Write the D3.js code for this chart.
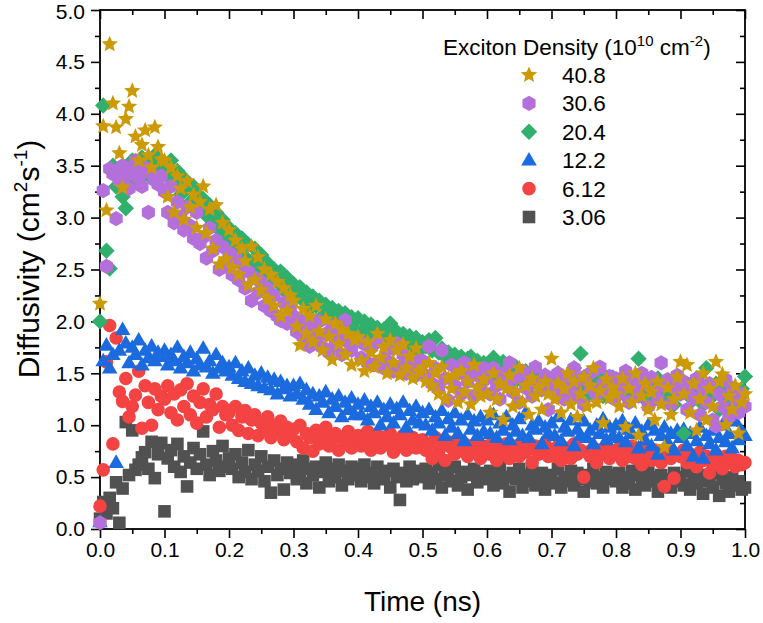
<!DOCTYPE html>
<html>
<head>
<meta charset="utf-8">
<script src="https://cdn.jsdelivr.net/npm/d3@7"></script>
<style>
  body { margin: 0; background: #fff; }
  svg { display: block; font-family: "Liberation Sans", Arial, sans-serif; }
</style>
</head>
<body>
<div id="chart"><svg width="763" height="623"></svg></div>
<script>
// sampling step of the time axis (ns)
const dt = 0.005;

// diffusivity values (cm^2 s^-1), one per time step
const d408 = [
  2.17, 3.88, 3.07, 4.67, 4.10, 3.87, 3.62, 3.29, 3.95, 4.07, 4.22, 3.78, 3.55, 3.70, 3.84, 3.60, 3.48, 3.87, 3.68, 3.56,
  3.55, 3.20, 3.48, 3.05, 3.40, 3.28, 2.98, 3.35, 3.10, 3.22, 2.90, 3.15, 3.30, 2.85, 3.08, 2.70, 3.12, 2.55, 2.95, 2.60,
  2.88, 2.52, 2.78, 2.45, 2.70, 2.58, 2.35, 2.72, 2.40, 2.62, 2.30, 2.50, 2.22, 2.45, 2.15, 2.38, 2.05, 2.32, 2.10, 2.25,
  2.20, 1.95, 1.77, 2.12, 1.88, 2.05, 1.80, 2.15, 1.90, 1.72, 2.02, 1.85, 1.63, 1.98, 1.78, 1.92, 1.68, 1.88, 1.58, 1.82,
  1.85, 1.62, 1.52, 1.80, 1.70, 1.56, 1.88, 1.65, 1.75, 1.50, 1.82, 1.60, 1.72, 1.48, 1.78, 1.55, 1.66, 1.45, 1.74, 1.52,
  1.55, 1.42, 1.60, 1.38, 1.50, 1.30, 1.56, 1.25, 1.45, 1.35, 1.48, 1.22, 1.52, 1.32, 1.42, 1.20, 1.58, 1.36, 1.28, 1.44,
  1.30, 1.12, 1.50, 1.25, 1.40, 1.05, 1.35, 1.48, 1.18, 1.32, 1.55, 1.22, 1.38, 1.10, 1.45, 1.28, 1.36, 1.15, 1.42, 1.30,
  1.64, 1.25, 1.40, 1.12, 1.35, 1.50, 1.20, 1.42, 1.08, 1.30, 1.46, 1.18, 1.38, 1.55, 1.22, 1.33, 1.02, 1.44, 1.26, 1.36,
  1.30, 1.18, 1.45, 0.98, 1.35, 1.22, 1.50, 0.90, 1.28, 1.40, 1.15, 1.32, 1.05, 1.42, 1.20, 0.79, 1.36, 1.10, 1.25, 1.46,
  1.61, 1.30, 1.58, 1.12, 1.40, 0.95, 1.25, 1.50, 1.05, 1.35, 1.18, 1.61, 1.42, 1.49, 1.00, 1.28, 1.15, 1.38, 0.92, 1.22,
  1.30
];
const d306 = [
  0.06, 3.26, 2.53, 3.47, 3.42, 2.99, 3.35, 3.50, 3.40, 3.28, 3.45, 3.55, 3.38, 3.30, 3.48, 3.05, 3.42, 3.36, 3.32, 3.40,
  3.25, 3.05, 3.30, 2.95, 3.15, 3.00, 2.88, 3.10, 2.92, 2.80, 3.05, 2.75, 2.81, 2.61, 2.90, 2.68, 2.78, 2.50, 2.72, 2.55,
  2.66, 2.45, 2.62, 2.40, 2.55, 2.32, 2.48, 2.20, 2.42, 2.28, 2.38, 2.15, 2.32, 2.10, 2.25, 2.05, 2.01, 2.18, 1.98, 2.12,
  2.05, 1.90, 2.02, 1.85, 1.98, 1.76, 1.92, 1.82, 2.00, 1.75, 1.88, 1.70, 1.95, 1.78, 1.85, 1.68, 2.01, 1.80, 1.72, 1.84,
  1.82, 1.65, 1.78, 1.60, 1.75, 1.58, 1.80, 1.62, 1.55, 1.72, 1.60, 1.52, 1.79, 1.56, 1.68, 1.50, 1.64, 1.54, 1.48, 1.62,
  1.62, 1.48, 1.76, 1.40, 1.55, 1.35, 1.72, 1.45, 1.24, 1.58, 1.38, 1.50, 1.30, 1.60, 1.42, 1.52, 1.28, 1.48, 1.36, 1.55,
  1.45, 1.30, 1.55, 1.38, 1.25, 1.50, 1.40, 1.60, 1.32, 1.46, 1.22, 1.52, 1.36, 1.44, 1.28, 1.56, 1.40, 1.34, 1.48, 1.15,
  1.42, 1.30, 1.50, 1.38, 1.25, 1.46, 1.35, 1.55, 1.28, 1.44, 1.20, 1.48, 1.36, 1.52, 1.30, 1.56, 1.40, 1.33, 1.47, 1.26,
  1.45, 1.30, 1.38, 1.52, 1.22, 1.42, 1.35, 1.28, 1.50, 1.40, 1.18, 1.46, 1.32, 1.25, 1.60, 1.38, 1.44, 1.20, 1.36, 1.48,
  1.30, 1.42, 1.15, 1.38, 1.26, 1.45, 1.10, 1.35, 1.22, 1.40, 1.05, 0.99, 1.30, 1.18, 1.44, 1.08, 1.36, 1.25, 1.12, 1.30,
  1.18
];
const d204 = [
  2.00, 4.08, 2.68, 2.51, 3.50, 3.30, 3.45, 3.20, 3.09, 3.40, 3.55, 3.35, 3.48, 3.58, 3.42, 3.52, 3.38, 3.60, 3.46, 3.55,
  3.50, 3.40, 3.55, 3.32, 3.45, 3.22, 3.38, 3.28, 3.15, 3.30, 3.23, 3.10, 3.18, 3.02, 3.12, 2.95, 3.05, 2.88, 2.98, 2.82,
  2.90, 2.78, 2.85, 2.70, 2.80, 2.62, 2.74, 2.58, 2.70, 2.52, 2.64, 2.48, 2.56, 2.42, 2.50, 2.38, 2.48, 2.30, 2.42, 2.28,
  2.36, 2.25, 2.33, 2.20, 2.28, 2.12, 2.24, 2.15, 2.20, 2.05, 2.16, 2.08, 2.13, 2.00, 2.10, 1.96, 2.08, 1.94, 2.04, 1.92,
  2.03, 1.90, 2.00, 1.88, 1.97, 1.85, 1.94, 1.82, 1.92, 1.86, 1.98, 1.80, 1.90, 1.78, 1.88, 1.76, 1.86, 1.74, 1.84, 1.72,
  1.80, 1.76, 1.82, 1.72, 1.84, 1.70, 1.74, 1.66, 1.70, 1.62, 1.68, 1.60, 1.66, 1.58, 1.64, 1.66, 1.56, 1.62, 1.54, 1.60,
  1.58, 1.52, 1.65, 1.48, 1.55, 1.61, 1.45, 1.52, 1.40, 1.56, 1.48, 1.44, 1.52, 1.38, 1.50, 1.42, 1.46, 1.36, 1.48, 1.40,
  1.44, 1.36, 1.50, 1.40, 1.32, 1.46, 1.38, 1.55, 1.42, 1.69, 1.35, 1.48, 1.30, 1.44, 1.38, 1.52, 1.28, 1.40, 1.34, 1.46,
  1.38, 1.30, 1.45, 1.35, 1.25, 1.42, 1.33, 1.64, 1.28, 1.40, 1.32, 1.22, 1.38, 1.45, 1.30, 1.26, 1.40, 1.35, 1.20, 1.32,
  1.42, 0.92, 1.30, 1.38, 1.25, 1.45, 1.32, 1.20, 1.55, 1.36, 1.28, 1.40, 1.15, 1.34, 1.26, 1.38, 1.22, 1.30, 1.18, 1.35,
  1.47
];
const d122 = [
  0.07, 1.62, 1.77, 1.55, 1.68, 0.64, 1.72, 1.92, 1.79, 1.60, 1.75, 1.68, 1.82, 1.58, 1.72, 1.65, 1.76, 1.62, 1.70, 1.66,
  1.72, 1.58, 1.68, 1.62, 1.75, 1.55, 1.66, 1.60, 1.70, 1.52, 1.64, 1.58, 1.74, 1.56, 1.62, 1.50, 1.68, 1.55, 1.60, 1.52,
  1.56, 1.48, 1.60, 1.45, 1.52, 1.42, 1.55, 1.40, 1.48, 1.38, 1.50, 1.36, 1.46, 1.34, 1.44, 1.30, 1.42, 1.35, 1.38, 1.28,
  1.38, 1.30, 1.40, 1.25, 1.34, 1.20, 1.30, 1.15, 1.28, 1.22, 1.32, 1.12, 1.25, 1.18, 1.28, 1.08, 1.22, 1.15, 1.26, 1.10,
  1.20, 1.10, 1.24, 1.05, 1.18, 1.12, 1.22, 1.00, 1.15, 1.08, 1.20, 1.02, 1.16, 1.10, 1.22, 0.98, 1.14, 1.05, 1.18, 1.02,
  1.12, 1.00, 1.15, 0.95, 1.08, 1.02, 1.14, 0.90, 1.06, 0.98, 1.12, 0.92, 1.05, 0.85, 1.10, 0.96, 1.04, 0.90, 1.08, 0.94,
  1.05, 0.92, 1.10, 0.88, 1.02, 0.95, 1.08, 0.86, 1.00, 0.94, 1.06, 0.90, 1.12, 0.88, 1.00, 0.96, 1.04, 0.82, 0.98, 0.92,
  1.02, 0.90, 1.08, 0.85, 0.98, 0.94, 1.05, 0.80, 0.96, 0.90, 1.04, 0.88, 0.95, 0.82, 1.00, 0.92, 1.06, 0.86, 0.98, 0.90,
  1.00, 0.88, 1.04, 0.84, 0.96, 0.92, 1.02, 0.78, 0.94, 0.86, 1.00, 0.80, 0.95, 0.72, 0.90, 0.98, 0.84, 0.92, 0.76, 0.95,
  0.88, 0.96, 0.80, 0.92, 0.70, 0.85, 0.98, 0.68, 0.90, 0.82, 0.95, 0.76, 0.88, 1.00, 0.84, 0.92, 0.78, 1.04, 0.86, 0.94,
  0.90
];
const d612 = [
  0.22, 0.57, 1.61, 1.96, 0.82, 1.84, 1.32, 1.23, 1.45, 1.08, 1.18, 1.29, 1.52, 0.97, 1.38, 1.22, 1.00, 1.35, 1.15, 1.28,
  1.25, 1.38, 1.12, 1.30, 1.05, 1.34, 1.18, 1.40, 1.10, 1.28, 1.02, 1.22, 1.35, 1.08, 1.20, 1.15, 1.30, 0.98, 1.18, 1.10,
  1.12, 1.00, 1.18, 0.95, 1.08, 1.14, 0.92, 1.05, 1.10, 0.90, 1.02, 0.96, 1.08, 0.88, 1.00, 0.94, 1.04, 0.86, 0.98, 0.92,
  0.96, 0.84, 1.00, 0.78, 0.92, 0.88, 0.75, 0.95, 0.82, 0.90, 0.98, 0.80, 0.86, 0.92, 0.76, 0.88, 0.84, 0.94, 0.78, 0.86,
  0.90, 0.80, 0.86, 0.94, 0.76, 0.84, 0.90, 0.78, 0.88, 0.82, 0.92, 0.74, 0.86, 0.80, 0.90, 0.76, 0.84, 0.88, 0.78, 0.82,
  0.86, 0.76, 0.82, 0.68, 0.88, 0.74, 0.80, 0.66, 0.84, 0.78, 0.72, 0.86, 0.76, 0.82, 0.70, 0.80, 0.74, 0.84, 0.68, 0.78,
  0.80, 0.72, 0.84, 0.66, 0.78, 0.74, 0.82, 0.68, 0.76, 0.80, 0.70, 0.84, 0.74, 0.78, 0.64, 0.80, 0.72, 0.76, 0.82, 0.70,
  0.76, 0.70, 0.80, 0.66, 0.74, 0.78, 0.68, 0.82, 0.72, 0.76, 0.50, 0.74, 0.70, 0.78, 0.64, 0.76, 0.72, 0.80, 0.68, 0.74,
  0.72, 0.78, 0.66, 0.76, 0.70, 0.80, 0.68, 0.74, 0.62, 0.78, 0.72, 0.66, 0.76, 0.70, 0.64, 0.41, 0.74, 0.68, 0.49, 0.72,
  0.70, 0.76, 0.64, 0.72, 0.68, 0.60, 0.74, 0.66, 0.70, 0.54, 0.62, 0.72, 0.66, 0.58, 0.70, 0.64, 0.68, 0.60, 0.66, 0.62,
  0.64
];
const d306b = [
  0.10, 0.26, 0.15, 0.30, 0.20, 0.45, 0.06, 0.39, 1.03, 0.52, 0.95, 0.57, 0.62, 0.69, 0.74, 0.58, 0.84, 0.49, 0.72, 0.83,
  0.17, 0.68, 0.76, 0.60, 0.82, 0.55, 0.70, 0.41, 0.64, 0.78, 0.58, 0.72, 0.94, 0.62, 0.52, 0.75, 0.66, 0.56, 0.80, 0.60,
  0.68, 0.58, 0.72, 0.50, 0.64, 0.55, 0.76, 0.48, 0.62, 0.56, 0.70, 0.46, 0.60, 0.35, 0.66, 0.52, 0.58, 0.38, 0.64, 0.54,
  0.62, 0.48, 0.56, 0.66, 0.44, 0.58, 0.52, 0.60, 0.40, 0.55, 0.64, 0.46, 0.58, 0.50, 0.62, 0.42, 0.56, 0.48, 0.60, 0.52,
  0.58, 0.46, 0.62, 0.50, 0.54, 0.44, 0.60, 0.52, 0.48, 0.56, 0.40, 0.58, 0.50, 0.28, 0.54, 0.46, 0.60, 0.48, 0.52, 0.56,
  0.50, 0.58, 0.44, 0.54, 0.48, 0.62, 0.40, 0.52, 0.56, 0.46, 0.60, 0.42, 0.50, 0.55, 0.38, 0.52, 0.58, 0.45, 0.50, 0.54,
  0.48, 0.56, 0.42, 0.52, 0.60, 0.44, 0.50, 0.36, 0.54, 0.48, 0.58, 0.40, 0.52, 0.46, 0.56, 0.42, 0.50, 0.54, 0.38, 0.48,
  0.52, 0.44, 0.58, 0.40, 0.50, 0.46, 0.56, 0.42, 0.54, 0.48, 0.36, 0.52, 0.46, 0.58, 0.44, 0.50, 0.40, 0.55, 0.48, 0.52,
  0.46, 0.54, 0.40, 0.50, 0.44, 0.56, 0.38, 0.52, 0.48, 0.42, 0.55, 0.46, 0.50, 0.36, 0.52, 0.44, 0.48, 0.40, 0.54, 0.46,
  0.50, 0.42, 0.56, 0.38, 0.48, 0.44, 0.52, 0.34, 0.46, 0.50, 0.40, 0.54, 0.32, 0.48, 0.44, 0.36, 0.50, 0.42, 0.46, 0.38,
  0.40
];

// series in legend order (top to bottom)
const labels  = ["40.8", "30.6", "20.4", "12.2", "6.12", "3.06"];
const colors  = ["#CC9A06", "#B46FDB", "#31AF6C", "#1B6BDF", "#F44343", "#515151"];
const shapes  = ["star", "hexagon", "diamond", "triangle", "circle", "square"];
const values  = [d408, d306, d204, d122, d612, d306b];

const xTicks = [0, 0.1, 0.2, 0.3, 0.4, 0.5, 0.6, 0.7, 0.8, 0.9, 1.0];
const yTicks = [0, 0.5, 1, 1.5, 2, 2.5, 3, 3.5, 4, 4.5, 5];

// ---- layout
const svg = d3.select("#chart").select("svg");
const margin = {top: 10, right: 18, bottom: 94, left: 100};
const W = 763, H = 623;
const plotW = W - margin.left - margin.right;
const plotH = H - margin.top - margin.bottom;

const x = d3.scaleLinear().domain([0, 1]).range([margin.left, margin.left + plotW]);
const y = d3.scaleLinear().domain([0, 5]).range([margin.top + plotH, margin.top]);

// ---- marker shapes (Origin style)
function shapePath(kind) {
  const p = d3.path();
  if (kind === "square") {
    const s = 6.3; p.rect(-s, -s, 2 * s, 2 * s);
  } else if (kind === "circle") {
    p.arc(0, 0, 6.8, 0, 2 * Math.PI);
  } else if (kind === "triangle") {
    p.moveTo(0, -8.2); p.lineTo(7.8, 5.4); p.lineTo(-7.8, 5.4); p.closePath();
  } else if (kind === "diamond") {
    const r = 8.2; p.moveTo(0, -r); p.lineTo(r, 0); p.lineTo(0, r); p.lineTo(-r, 0); p.closePath();
  } else if (kind === "hexagon") {
    const r = 7.6;
    for (let i = 0; i < 6; i++) {
      const a = -Math.PI / 2 + i * Math.PI / 3;
      if (i === 0) p.moveTo(r * Math.cos(a), r * Math.sin(a)); else p.lineTo(r * Math.cos(a), r * Math.sin(a));
    }
    p.closePath();
  } else if (kind === "star") {
    const ro = 8.6, ri = 3.9;
    for (let i = 0; i < 10; i++) {
      const a = -Math.PI / 2 + i * Math.PI / 5;
      const r = i % 2 === 0 ? ro : ri;
      if (i === 0) p.moveTo(r * Math.cos(a), r * Math.sin(a)); else p.lineTo(r * Math.cos(a), r * Math.sin(a));
    }
    p.closePath();
  }
  return p.toString();
}

// ---- axes
const fmt = d3.format(".1f");
const minorX = d3.range(0.05, 1, 0.1);
const minorY = d3.range(0.25, 5, 0.5);

function styleAxis(g) {
  g.select(".domain").remove();
  g.selectAll("line").attr("stroke", "#000").attr("stroke-width", 1.6);
  g.selectAll("text").attr("font-family", "'Liberation Sans', Arial, sans-serif")
    .attr("font-size", 21).attr("fill", "#000");
}

// bottom
svg.append("g").attr("transform", `translate(0,${margin.top + plotH})`)
  .call(d3.axisBottom(x).tickValues(xTicks).tickFormat(fmt).tickSize(9).tickPadding(4))
  .call(styleAxis);
svg.append("g").attr("transform", `translate(0,${margin.top + plotH})`)
  .call(d3.axisBottom(x).tickValues(minorX).tickFormat("").tickSize(5))
  .call(styleAxis);
// top (inward)
svg.append("g").attr("transform", `translate(0,${margin.top})`)
  .call(d3.axisBottom(x).tickValues(xTicks).tickFormat("").tickSize(9))
  .call(styleAxis);
svg.append("g").attr("transform", `translate(0,${margin.top})`)
  .call(d3.axisBottom(x).tickValues(minorX).tickFormat("").tickSize(5))
  .call(styleAxis);
// left
svg.append("g").attr("transform", `translate(${margin.left},0)`)
  .call(d3.axisLeft(y).tickValues(yTicks).tickFormat(fmt).tickSize(9).tickPadding(6))
  .call(styleAxis)
  .selectAll("text").filter(d => d === 5).attr("dy", "0.42em");
svg.append("g").attr("transform", `translate(${margin.left},0)`)
  .call(d3.axisLeft(y).tickValues(minorY).tickFormat("").tickSize(5))
  .call(styleAxis);
// right (inward)
svg.append("g").attr("transform", `translate(${margin.left + plotW},0)`)
  .call(d3.axisLeft(y).tickValues(yTicks).tickFormat("").tickSize(9))
  .call(styleAxis);
svg.append("g").attr("transform", `translate(${margin.left + plotW},0)`)
  .call(d3.axisLeft(y).tickValues(minorY).tickFormat("").tickSize(5))
  .call(styleAxis);

// frame
svg.append("rect")
  .attr("x", margin.left).attr("y", margin.top)
  .attr("width", plotW).attr("height", plotH)
  .attr("fill", "none").attr("stroke", "#000").attr("stroke-width", 1.8);

// axis titles
svg.append("text")
  .attr("x", x(0.5)).attr("y", 611)
  .attr("text-anchor", "middle").attr("font-size", 28)
  .text("Time (ns)");

const yTitle = svg.append("text")
  .attr("transform", `translate(39,259) rotate(-90)`)
  .attr("text-anchor", "middle").attr("font-size", 30);
yTitle.append("tspan").text("Diffusivity (cm");
yTitle.append("tspan").attr("dy", -12).attr("font-size", 19).text("2");
yTitle.append("tspan").attr("dy", 12).text("s");
yTitle.append("tspan").attr("dy", -12).attr("font-size", 19).text("-1");
yTitle.append("tspan").attr("dy", 12).text(")");

// ---- markers, lowest density first so the highest sits on top
const order = d3.range(labels.length).reverse();
order.forEach(k => {
  svg.append("g")
    .selectAll("path")
    .data(values[k].map((v, i) => ({t: i * dt, v: v})))
    .join("path")
    .attr("d", shapePath(shapes[k]))
    .attr("transform", d => `translate(${x(d.t)},${y(d.v)})`)
    .attr("fill", colors[k]);
});

// ---- legend
const legendTitle = svg.append("text")
  .attr("x", 443).attr("y", 55).attr("font-size", 22.5);
legendTitle.append("tspan").text("Exciton Density (10");
legendTitle.append("tspan").attr("dy", -9).attr("font-size", 15).text("10");
legendTitle.append("tspan").attr("dy", 9).text(" cm");
legendTitle.append("tspan").attr("dy", -9).attr("font-size", 15).text("-2");
legendTitle.append("tspan").attr("dy", 9).text(")");

const legend = svg.append("g");
labels.forEach((lab, k) => {
  const cy = 75 + k * 28.4;
  legend.append("path")
    .attr("d", shapePath(shapes[k]))
    .attr("transform", `translate(529,${cy})`)
    .attr("fill", colors[k]);
  legend.append("text")
    .attr("x", 562).attr("y", cy + 8)
    .attr("font-size", 22.5)
    .text(lab);
});
</script>
</body>
</html>
